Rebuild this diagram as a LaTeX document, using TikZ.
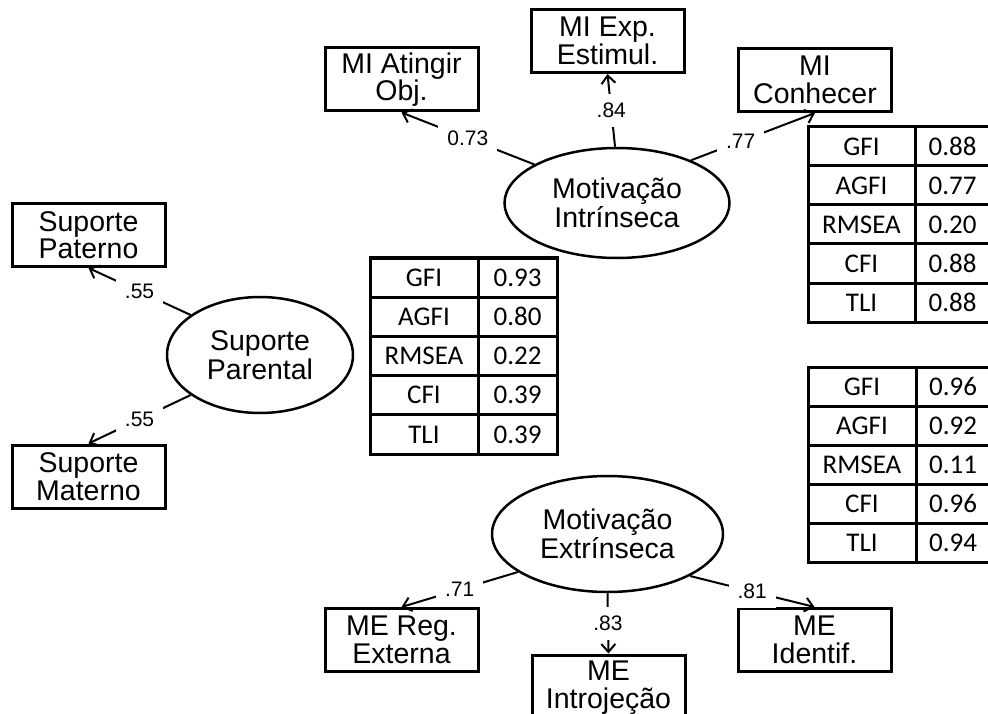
\documentclass[tikz,border=0pt]{standalone}
\usepackage{fontspec}
\setmainfont{Liberation Sans}
\newfontfamily\tabfont{Carlito}
\usetikzlibrary{shapes.geometric,arrows.meta}
\begin{document}
\begin{tikzpicture}[x=1pt,y=-1pt,
 box/.style={draw,line width=3pt,minimum width=153pt,minimum height=63pt,inner sep=0pt,align=center,font=\fontsize{28.5}{27.5}\selectfont},
 lat/.style={draw,ellipse,line width=2.5pt,inner sep=0pt,align=center,font=\fontsize{28.5}{28.5}\selectfont},
 conn/.style={line width=2pt,-{Straight Barb[length=8pt,width=14pt,line width=2pt]}},
 lbl/.style={fill=white,inner sep=9pt,font=\fontsize{21}{21}\selectfont},
 cell/.style={draw,line width=3pt,minimum height=39pt,inner sep=0pt,font=\tabfont\fontsize{27}{27}\selectfont},
]
\useasboundingbox (0,0) rectangle (988,714);

% observed variables
\node[box] (atg) at (401.5,79.5) {MI Atingir\\Obj.};
\node[box] (exp) at (607.5,41) {MI Exp.\\Estimul.};
\node[box] (conh) at (815,80) {MI\\Conhecer};
\node[box] (pat) at (88.5,235) {Suporte\\Paterno};
\node[box] (mat) at (88.5,476.5) {Suporte\\Materno};
\node[box] (reg) at (401.5,640) {ME Reg.\\Externa};
\node[box,minimum height=65pt] (intro) at (608.5,687.5) {ME\\Introjeção};
\node[box] (ide) at (814.5,640) {ME\\Identif.};

% latent variables
\node[lat,minimum width=225pt,minimum height=110pt] (mi) at (617,203) {Motivação\\Intrínseca};
\node[lat,minimum width=186pt,minimum height=116pt] (sp) at (260,355) {Suporte\\Parental};
\node[lat,minimum width=231pt,minimum height=116pt] (me) at (607.5,534) {Motivação\\Extrínseca};

% loadings
\draw[conn] (mi.155) -- node[lbl]{0.73} (atg.south);
\draw[conn] (mi.92) -- node[lbl]{.84} (exp.south);
\draw[conn] (mi.30) -- node[lbl,pos=.4]{.77} (conh.south);
\draw[conn] (sp.150) -- node[lbl]{.55} (pat.south);
\draw[conn] (sp.210) -- node[lbl]{.55} (mat.north);
\draw[conn] (me.203) -- node[lbl]{.71} (reg.north);
\draw[conn] (me.south) -- node[lbl]{.83} (intro.north);
\draw[conn] (me.333) -- node[lbl]{.81} (ide.north);

% fit tables
\foreach \i/\a/\b in {1/GFI/0.88, 2/AGFI/0.77, 3/RMSEA/0.20, 4/CFI/0.88, 5/TLI/0.88} {
  \node[cell,minimum width=107pt] (ta-\i-a) at (861.5,{107.5+39*\i}) {\a};
  \node[cell,minimum width=75pt] (ta-\i-b) at (952.5,{107.5+39*\i}) {\b};
}
\foreach \i/\a/\b in {1/GFI/0.93, 2/AGFI/0.80, 3/RMSEA/0.22, 4/CFI/0.39, 5/TLI/0.39} {
  \node[cell,minimum width=108pt,minimum height=39.2pt] (tb-\i-a) at (424,{238.4+39.2*\i}) {\a};
  \node[cell,minimum width=79pt,minimum height=39.2pt] (tb-\i-b) at (517.5,{238.4+39.2*\i}) {\b};
}
\foreach \i/\a/\b in {1/GFI/0.96, 2/AGFI/0.92, 3/RMSEA/0.11, 4/CFI/0.96, 5/TLI/0.94} {
  \node[cell,minimum width=108pt] (tc-\i-a) at (862,{347.5+39*\i}) {\a};
  \node[cell,minimum width=74pt] (tc-\i-b) at (953,{347.5+39*\i}) {\b};
}
\end{tikzpicture}
\end{document}
